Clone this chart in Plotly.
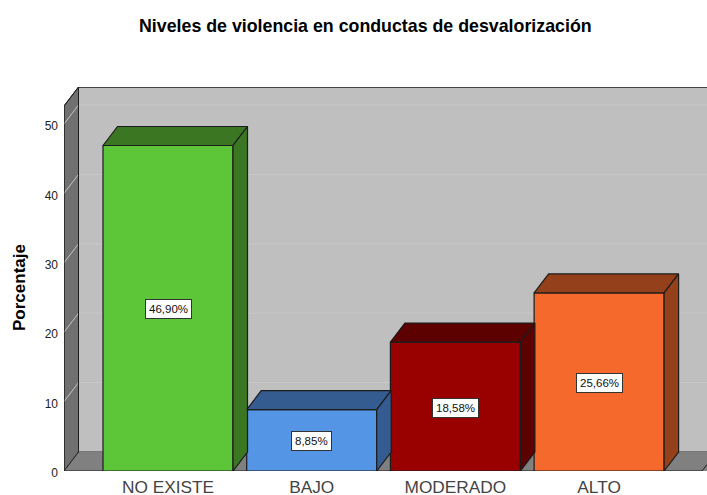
import plotly.graph_objects as go

# Data
categories = ["NO EXISTE", "BAJO", "MODERADO", "ALTO"]
percentages = [46.90, 8.85, 18.58, 25.66]
y_ticks = [0, 10, 20, 30, 40, 50]
front_colors = ["#5dc538", "#5495e6", "#990000", "#f5692c"]
depth_colors = ["#3b7723", "#345c90", "#5c0000", "#94401b"]
title_text = "Niveles de violencia en conductas de desvalorización"
y_title = "Porcentaje"

# Pixel geometry of the plotting box
W, H = 707, 495
PX_L, PX_R, PX_T, PX_B = 64, 707, 87, 471
PX_PER_Y = 6.94
PX_PER_X = 143.7
X0_PX = 168  # first category centre
DX_PX, DY_PX = 14.5, 19
BAR_PX = 130

xmin = (PX_L - X0_PX) / PX_PER_X
xmax = (PX_R - X0_PX) / PX_PER_X
ymax = (PX_B - PX_T) / PX_PER_Y
dx = DX_PX / PX_PER_X
dy = DY_PX / PX_PER_Y
bw = BAR_PX / PX_PER_X
front_top = ymax - dy
front_right = xmin + (702 - PX_L) / PX_PER_X
OUT = "#1c1c1c"

fig = go.Figure()


def poly(xs, ys, fill, line=OUT, lw=1, layer="below"):
    path = "M " + " L ".join(f"{a},{b}" for a, b in zip(xs, ys)) + " Z"
    return dict(type="path", path=path, xref="x", yref="y", fillcolor=fill,
                line=dict(color=line, width=lw), layer=layer)


def seg(x0, y0, x1, y1, color, lw=1):
    return dict(type="line", x0=x0, y0=y0, x1=x1, y1=y1, xref="x", yref="y",
                line=dict(color=color, width=lw), layer="below")


def paper_x(px):
    return (px - PX_L) / (PX_R - PX_L)


def paper_y(py):
    return (PX_B - py) / (PX_B - PX_T)


shapes = [
    # back wall
    poly([xmin + dx, xmax + 1, xmax + 1, xmin + dx], [dy, dy, ymax, ymax], "#bfbfbf"),
    # side wall
    poly([xmin, xmin + dx, xmin + dx, xmin], [0, dy, ymax, front_top], "#707070"),
    # floor
    poly([xmin, xmin + dx, xmax + 1, front_right], [0, dy, dy, 0], "#808080", line="#808080"),
]
for t in y_ticks[1:]:
    shapes.append(seg(xmin + dx, t + dy, xmax, t + dy, "#c9c9c9"))
    shapes.append(seg(xmin, t, xmin + dx, t + dy, "#c4c4c4"))
shapes += [
    seg(xmin, 0, xmin + dx, dy, OUT),
    seg(xmin + dx, dy, xmin + dx, ymax, OUT),
    seg(xmin + dx, ymax, xmax, ymax, OUT),
    seg(xmin, 0, xmin, front_top, OUT),
    seg(xmin, front_top, xmin + dx, ymax, OUT),
    seg(xmin, 0, front_right, 0, OUT),
    seg(front_right, 0, xmax, dy * (PX_R - 702) / DX_PX, OUT),
]

fig.add_trace(go.Bar(
    x=list(range(len(categories))), y=percentages, width=bw,
    marker=dict(color=front_colors, line=dict(color=OUT, width=1.2)),
    hoverinfo="skip", showlegend=False,
))

for i, v in enumerate(percentages):
    l, r = i - bw / 2, i + bw / 2
    # top face
    fig.add_trace(go.Scatter(
        x=[l, l + dx, r + dx, r, l], y=[v, v + dy, v + dy, v, v],
        mode="lines", fill="toself", fillcolor=depth_colors[i],
        line=dict(color=OUT, width=1.2), hoverinfo="skip", showlegend=False))
    # side face
    fig.add_trace(go.Scatter(
        x=[r, r + dx, r + dx, r, r], y=[0, dy, v + dy, v, 0],
        mode="lines", fill="toself", fillcolor=depth_colors[i],
        line=dict(color=OUT, width=1.2), hoverinfo="skip", showlegend=False))

annotations = []
for i, v in enumerate(percentages):
    annotations.append(dict(
        x=i, y=v / 2, yshift=-1, xref="x", yref="y", showarrow=False,
        text=f"{v:.2f}%".replace(".", ","),
        font=dict(family="Liberation Sans", size=11.5, color="#111111"),
        bgcolor="white", bordercolor="#333333", borderwidth=1, borderpad=3))
annotations.append(dict(
    x=paper_x(19), y=paper_y(288), xref="paper", yref="paper", showarrow=False,
    xanchor="center", yanchor="middle",
    text=f"<b>{y_title}</b>", textangle=-90,
    font=dict(family="Liberation Sans", size=17, color="black")))
annotations.append(dict(
    x=paper_x(365.5), y=paper_y(26), xref="paper", yref="paper", showarrow=False,
    xanchor="center", yanchor="middle",
    text=f"<b>{title_text}</b>",
    font=dict(family="Liberation Sans", size=17.8, color="black")))

fig.update_layout(
    width=W, height=H, autosize=False,
    margin=dict(l=PX_L, r=W - PX_R, t=PX_T, b=H - PX_B, pad=0, autoexpand=False),
    paper_bgcolor="white", plot_bgcolor="white",
    shapes=shapes, annotations=annotations, showlegend=False,
    xaxis=dict(range=[xmin, xmax], tickvals=list(range(len(categories))),
               ticktext=categories, showgrid=False, zeroline=False, automargin=False,
               showline=False, ticks="", ticklen=0, ticklabelstandoff=4,
               tickfont=dict(family="Liberation Sans", size=17.3, color="#444444")),
    yaxis=dict(range=[0, ymax], tickvals=y_ticks, showgrid=False, zeroline=False,
               showline=False, ticks="", ticklen=0, ticklabelstandoff=5, automargin=False,
               ticklabelshift=2,
               tickfont=dict(family="Liberation Sans", size=12, color="#222222")),
)

fig.write_html("out.html", config=dict(displayModeBar=False),
               post_script="document.body.style.margin='0';document.documentElement.style.overflow='hidden';window.dispatchEvent(new Event('resize'));")
